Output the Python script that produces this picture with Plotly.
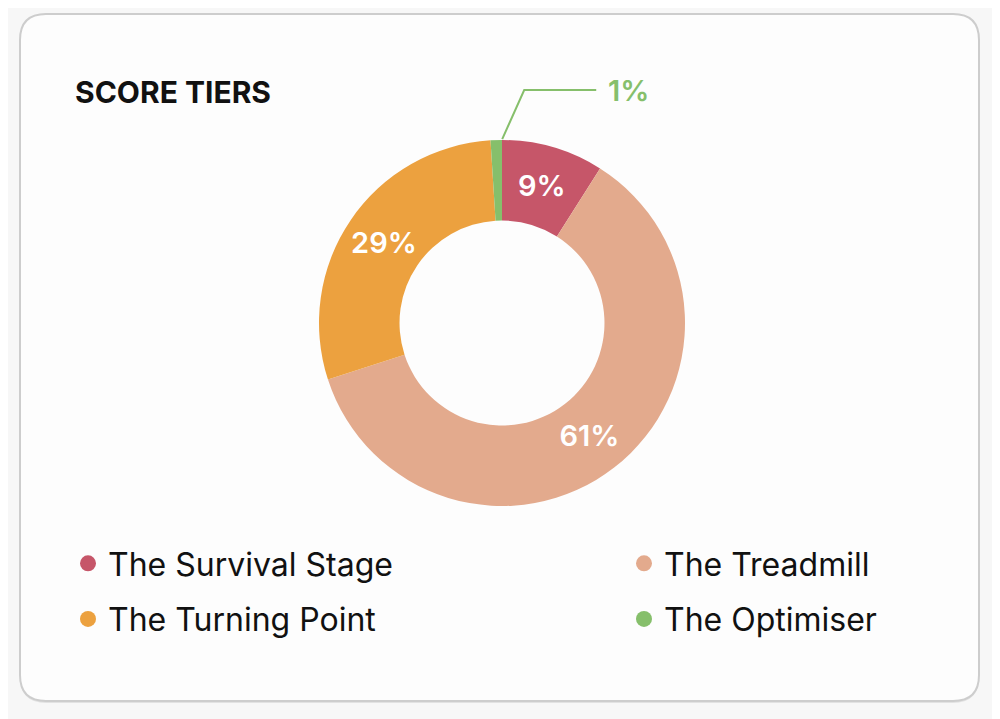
import math
import plotly.graph_objects as go

# tiers, clockwise from 12 o'clock
labels = ["The Survival Stage", "The Treadmill", "The Turning Point", "The Optimiser"]
values = [9, 61, 29, 1]
colors = ["#c65669", "#e3aa8d", "#eca13f", "#86bf6b"]
# which legend column each tier sits in
legend_cols = ["legend", "legend2", "legend", "legend2"]
text_pos = ["inside", "inside", "inside", "none"]

W, H = 1000, 719
OFF = 8  # page body margin, so screen px -> figure px


def px(x):
    return (x - OFF) / W


def py(y):
    return 1 - (y - OFF) / H


def rounded_rect(x0, y0, x1, y1, r):
    # svg path in paper coords, pixel input
    pts = [
        "M %f,%f" % (px(x0 + r), py(y0)),
        "L %f,%f" % (px(x1 - r), py(y0)),
        "Q %f,%f %f,%f" % (px(x1), py(y0), px(x1), py(y0 + r)),
        "L %f,%f" % (px(x1), py(y1 - r)),
        "Q %f,%f %f,%f" % (px(x1), py(y1), px(x1 - r), py(y1)),
        "L %f,%f" % (px(x0 + r), py(y1)),
        "Q %f,%f %f,%f" % (px(x0), py(y1), px(x0), py(y1 - r)),
        "L %f,%f" % (px(x0), py(y0 + r)),
        "Q %f,%f %f,%f" % (px(x0), py(y0), px(x0 + r), py(y0)),
        "Z",
    ]
    return " ".join(pts)


# donut placement (pixels)
cx, cy, R = 502, 323, 183

fig = go.Figure()

fig.add_trace(go.Pie(
    labels=labels,
    values=values,
    sort=False,
    direction="clockwise",
    rotation=0,
    hole=0.56,
    marker=dict(colors=colors, line=dict(width=0)),
    texttemplate="%{value}%",
    textposition=text_pos,
    insidetextorientation="horizontal",
    textfont=dict(family="Inter", size=29, color="white", weight=600),
    showlegend=False,
    hoverinfo="label+percent",
    domain=dict(x=[px(cx - R), px(cx + R)], y=[py(cy + R), py(cy - R)]),
))

# legend entries as round markers
for lab, col, lg in zip(labels, colors, legend_cols):
    fig.add_trace(go.Scatter(
        x=[None], y=[None], mode="markers", name=lab,
        marker=dict(color=col, size=18, symbol="circle"),
        legend=lg, legendgroup=lab,
    ))

# leader line + label for the tiny slice
small = len(values) - 1
mid = (sum(values[:small]) + values[small] / 2) / sum(values)
ang = 2 * math.pi * mid
sx = cx + (R + 1) * math.sin(ang) + 6
sy = cy - (R + 1) * math.cos(ang)
ex, ey = sx + 22, sy - 49
lx = ex + 72

shapes = [
    dict(type="path", xref="paper", yref="paper",
         path=rounded_rect(20, 16, 979, 703, 26),
         fillcolor="#e2e2e2", line=dict(width=0), layer="below"),
    dict(type="path", xref="paper", yref="paper",
         path=rounded_rect(20, 14, 979, 701, 26),
         fillcolor="#fdfdfd", line=dict(color="#cdcdcd", width=2), layer="below"),
    dict(type="path", xref="paper", yref="paper",
         path="M %f,%f L %f,%f L %f,%f" % (px(sx), py(sy), px(ex), py(ey), px(lx), py(ey)),
         line=dict(color=colors[small], width=2)),
]

legend_common = dict(
    orientation="v",
    yanchor="top",
    xanchor="left",
    bgcolor="rgba(0,0,0,0)",
    font=dict(family="Inter", size=32, color="#111111"),
    tracegroupgap=11,
    itemclick=False,
)

fig.update_layout(
    width=W,
    height=H,
    margin=dict(l=0, r=0, t=0, b=0),
    paper_bgcolor="#f7f7f7",
    plot_bgcolor="rgba(0,0,0,0)",
    xaxis=dict(visible=False),
    yaxis=dict(visible=False),
    title=dict(
        text="<b>SCORE TIERS</b>",
        x=px(75), xanchor="left",
        y=py(92), yanchor="middle",
        font=dict(family="Inter", size=30, color="#111111"),
    ),
    shapes=shapes,
    annotations=[dict(
        x=px(lx + 10), y=py(ey), xref="paper", yref="paper",
        xanchor="left", yanchor="middle", showarrow=False,
        text="%d%%" % values[small],
        font=dict(family="Inter", size=29, color=colors[small], weight=600),
    )],
    legend=dict(x=px(68), y=py(536), **legend_common),
    legend2=dict(x=px(624), y=py(536), **legend_common),
)

fig.write_html("out.html")
